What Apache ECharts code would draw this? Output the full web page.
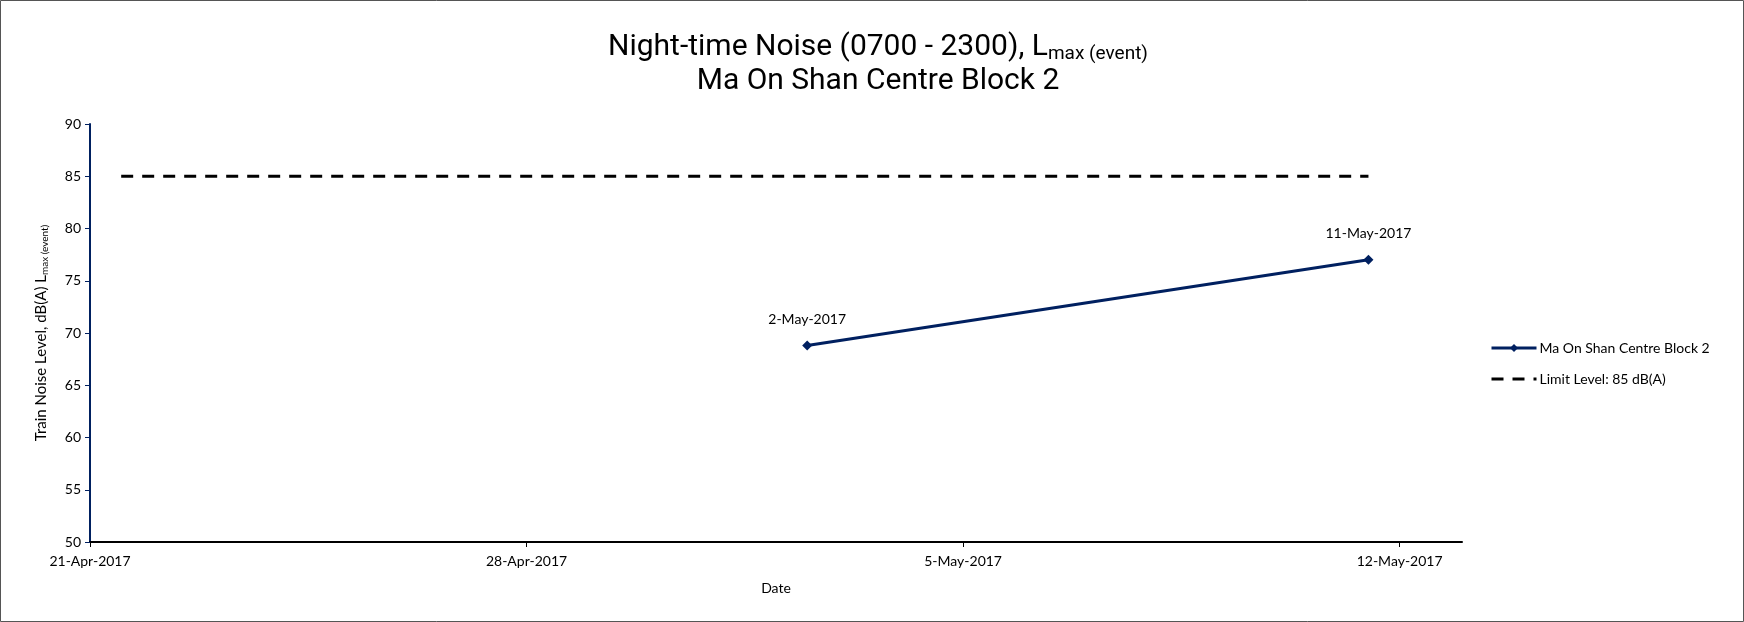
<!DOCTYPE html>
<html>
<head>
<meta charset="utf-8">
<script src="https://cdn.jsdelivr.net/npm/echarts@6/dist/echarts.min.js"></script>
<style>
  body { margin: 0; background: #fff; }
  #chart { width: 1744px; height: 622px; }
</style>
</head>
<body>
<div id="chart"></div>
<script>
// data
var startDate = '2017-04-21';
var endDate = '2017-05-13';
var tickDates = ['2017-04-21', '2017-04-28', '2017-05-05', '2017-05-12'];
var siteDates = ['2017-05-02', '2017-05-11'];
var siteValues = [68.8, 77.0];
var limitDates = ['2017-04-21', '2017-05-11'];
var limitValues = [85, 85];

var MONTHS = ['Jan','Feb','Mar','Apr','May','Jun','Jul','Aug','Sep','Oct','Nov','Dec'];
var DAY = 86400000;
function ts(s) {
	var p = s.split('-');
	return Date.UTC(+p[0], +p[1] - 1, +p[2]);
}
var base = ts(startDate);
// day offset from start, points sit in the middle of their day (excel date axis)
function dayOf(s) { return (ts(s) - base) / DAY; }
function fmt(v) {
	var d = new Date(base + Math.round(v) * DAY);
	return d.getUTCDate() + '-' + MONTHS[d.getUTCMonth()] + '-' + d.getUTCFullYear();
}

var siteData = siteDates.map(function(d, i) { return [dayOf(d) + 0.5, siteValues[i], d]; });
var limitData = limitDates.map(function(d, i) { return [dayOf(d) + 0.5, limitValues[i]]; });
var ticks = tickDates.map(dayOf);

var font = 'Lato, "Open Sans", sans-serif';
var titleFont = 'Roboto, "Noto Sans", sans-serif';

var chart = echarts.init(document.getElementById('chart'));
var option = {
	backgroundColor: '#fff',
	animation: false,
	textStyle: { fontFamily: font },
	graphic: [{
		type: 'rect',
		shape: { x: 0.5, y: 0.5, width: 1743, height: 621 },
		style: { fill: 'none', stroke: '#555', lineWidth: 1 },
		silent: true
	}],
	title: {
		text: '{a|Night-time Noise (0700 - 2300), L}{s|max (event)}\n{a|Ma On Shan Centre Block 2}',
		left: 873,
		textAlign: 'center',
		top: 25,
		textStyle: {
			rich: {
				a: { fontFamily: titleFont, fontWeight: 'normal', fontSize: 30, color: '#000', lineHeight: 34 },
				s: { fontFamily: titleFont, fontWeight: 'normal', fontSize: 19, color: '#000', lineHeight: 34, padding: [14, 0, 0, 0] }
			}
		}
	},
	legend: {
		orient: 'vertical',
		left: 1485,
		top: 336,
		itemWidth: 45,
		itemHeight: 10,
		itemGap: 17,
		textStyle: { fontFamily: font, fontSize: 14, color: '#000', padding: [0, 0, 0, -2] },
		data: [
			{ name: 'Ma On Shan Centre Block 2', lineStyle: { width: 3 } },
			{ name: 'Limit Level: 85 dB(A)', lineStyle: { width: 3 }, itemStyle: { opacity: 0 } }
		]
	},
	grid: { left: 90, top: 124, right: 282, bottom: 80, containLabel: false },
	xAxis: {
		type: 'value',
		min: 0,
		max: dayOf(endDate),
		interval: 7,
		name: 'Date',
		nameLocation: 'middle',
		nameGap: 39,
		nameTextStyle: { fontFamily: font, fontSize: 14, color: '#000' },
		axisLine: { lineStyle: { color: '#000', width: 2 } },
		axisTick: { show: true, length: 5, lineStyle: { color: '#000' }, customValues: ticks },
		axisLabel: { customValues: ticks, formatter: fmt, fontFamily: font, fontSize: 14, color: '#000', margin: 12 },
		splitLine: { show: false }
	},
	yAxis: {
		type: 'value',
		min: 50,
		max: 90,
		interval: 5,
		name: '{a|Train Noise Level, dB(A) L}{s|max (event)}',
		nameLocation: 'middle',
		nameRotate: 90,
		nameGap: 40,
		nameTextStyle: {
			rich: {
				a: { fontFamily: font, fontSize: 15, color: '#000', lineHeight: 18 },
				s: { fontFamily: font, fontSize: 10, color: '#000', lineHeight: 18, padding: [8, 0, 0, 0] }
			}
		},
		axisLine: { show: true, lineStyle: { color: '#002060', width: 2 } },
		axisTick: { show: true, inside: false, length: 5, lineStyle: { color: '#002060' } },
		axisLabel: { fontFamily: font, fontSize: 14, color: '#000', margin: 9 },
		splitLine: { show: false }
	},
	series: [{
		name: 'Ma On Shan Centre Block 2',
		type: 'line',
		data: siteData,
		symbol: 'diamond',
		symbolSize: 10,
		lineStyle: { color: '#002060', width: 3 },
		itemStyle: { color: '#002060' },
		label: {
			show: true,
			position: 'top',
			distance: 14,
			formatter: function(p) { return fmt(dayOf(p.data[2])); },
			fontFamily: font,
			fontSize: 14,
			color: '#000'
		},
		z: 3
	}, {
		name: 'Limit Level: 85 dB(A)',
		type: 'line',
		data: limitData,
		symbol: 'none',
		lineStyle: { color: '#000', width: 3, type: [12, 9] },
		itemStyle: { color: '#000' }
	}]
};
chart.setOption(option);
</script>
</body>
</html>
